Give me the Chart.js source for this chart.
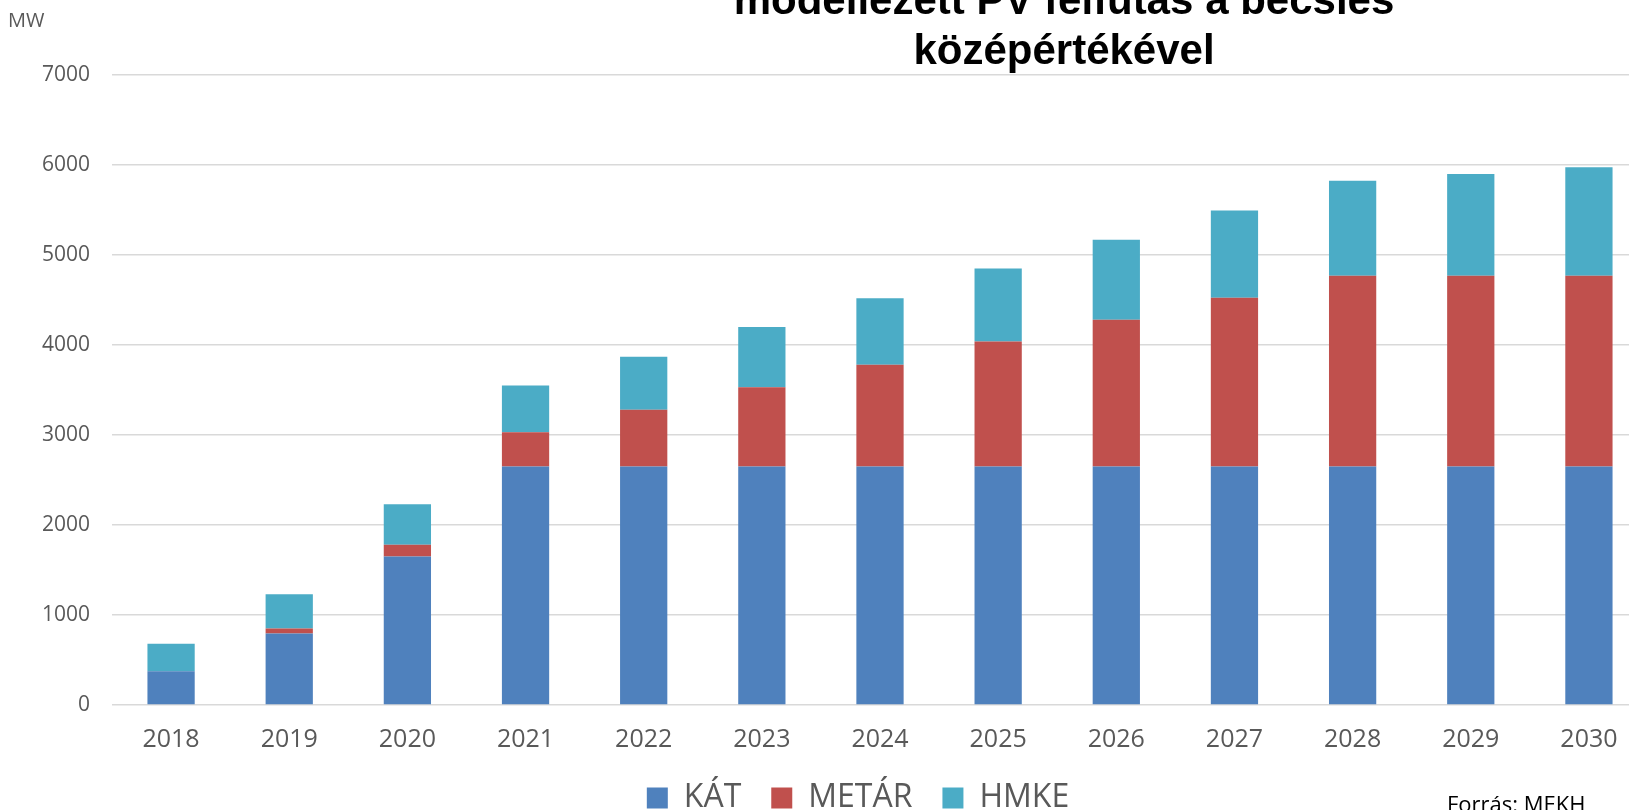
<!DOCTYPE html>
<html lang="hu">
<head>
    <meta charset="UTF-8">
    <title>PV felfutás</title>
    <script src="https://cdn.jsdelivr.net/npm/chart.js"></script>
    <style>
        html, body {
            margin: 0;
            padding: 0;
            background: #fff;
            overflow: hidden;
        }

        .chart-box {
            position: absolute;
            left: 0;
            top: 0;
            width: 1680px;
            height: 850px;
        }
    </style>
</head>
<body>
    <div class="chart-box">
        <canvas id="pv-chart" width="1680" height="850"></canvas>
    </div>

    <script>
        const evek = ['2018', '2019', '2020', '2021', '2022', '2023', '2024', '2025', '2026', '2027', '2028', '2029', '2030'];
        const kat = [375, 795, 1650, 2650, 2650, 2650, 2650, 2650, 2650, 2650, 2650, 2650, 2650];
        const metar = [0, 55, 130, 380, 630, 880, 1130, 1390, 1630, 1875, 2120, 2120, 2120];
        const hmke = [305, 380, 450, 520, 590, 670, 740, 810, 890, 970, 1055, 1130, 1205];
        const yTicks = [0, 1000, 2000, 3000, 4000, 5000, 6000, 7000];

        const cimSorok = ['modellezett PV felfutás a becslés', 'középértékével'];

        // cím, mértékegység és forrás - a képen kívül is lóg
        const szovegek = {
            id: 'szovegek',
            afterLayout(chart) {
                // jelmagyarázat kicsit jobbra, mint az eredetin
                chart.legend.left += 14;
                chart.legend.right += 14;
            },
            afterDraw(chart) {
                const ctx = chart.ctx;
                ctx.save();
                ctx.fillStyle = '#000';
                ctx.font = 'bold 42px "Liberation Sans", Arial, sans-serif';
                ctx.textAlign = 'center';
                ctx.textBaseline = 'alphabetic';
                ctx.fillText(cimSorok[0], 1064, 14);
                ctx.fillText(cimSorok[1], 1064, 64);

                ctx.fillStyle = '#595959';
                ctx.font = '20px "Open Sans", sans-serif';
                ctx.textAlign = 'left';
                ctx.textBaseline = 'middle';
                ctx.fillText('MW', 8, 21);

                ctx.fillStyle = '#000';
                ctx.font = '22px "Open Sans", sans-serif';
                ctx.textBaseline = 'top';
                ctx.fillText('Forrás: MEKH', 1447, 795);
                ctx.restore();
            }
        };

        new Chart(document.getElementById('pv-chart'), {
            type: 'bar',
            data: {
                labels: evek,
                datasets: [
                    { label: 'KÁT', data: kat, backgroundColor: '#4F81BD', borderWidth: 0 },
                    { label: 'METÁR', data: metar, backgroundColor: '#C0504D', borderWidth: 0 },
                    { label: 'HMKE', data: hmke, backgroundColor: '#4BACC6', borderWidth: 0 }
                ]
            },
            options: {
                responsive: false,
                animation: false,
                layout: { padding: { left: 40, right: 32, top: 75, bottom: 26 } },
                datasets: { bar: { barPercentage: 0.4, categoryPercentage: 1 } },
                scales: {
                    x: {
                        stacked: true,
                        grid: { display: false, drawTicks: false },
                        border: { display: false },
                        ticks: { color: '#595959', font: { family: 'Open Sans', size: 25 }, padding: 20, maxRotation: 0 },
                        afterFit: s => { s.height = 47; }
                    },
                    y: {
                        stacked: true,
                        min: yTicks[0],
                        max: yTicks[yTicks.length - 1],
                        ticks: {
                            stepSize: yTicks[1] - yTicks[0],
                            callback: v => String(v),
                            color: '#595959',
                            font: { family: 'Open Sans', size: 21 },
                            padding: 22
                        },
                        grid: { color: '#d9d9d9', lineWidth: 1.5, drawTicks: false },
                        border: { display: false },
                        afterFit: s => { s.width = 72; }
                    }
                },
                plugins: {
                    legend: {
                        position: 'bottom',
                        labels: {
                            color: '#595959',
                            font: { family: 'Open Sans', size: 32 },
                            boxWidth: 21,
                            boxHeight: 21,
                            padding: 30
                        }
                    },
                    tooltip: { enabled: false }
                }
            },
            plugins: [szovegek]
        });
    </script>
</body>
</html>
